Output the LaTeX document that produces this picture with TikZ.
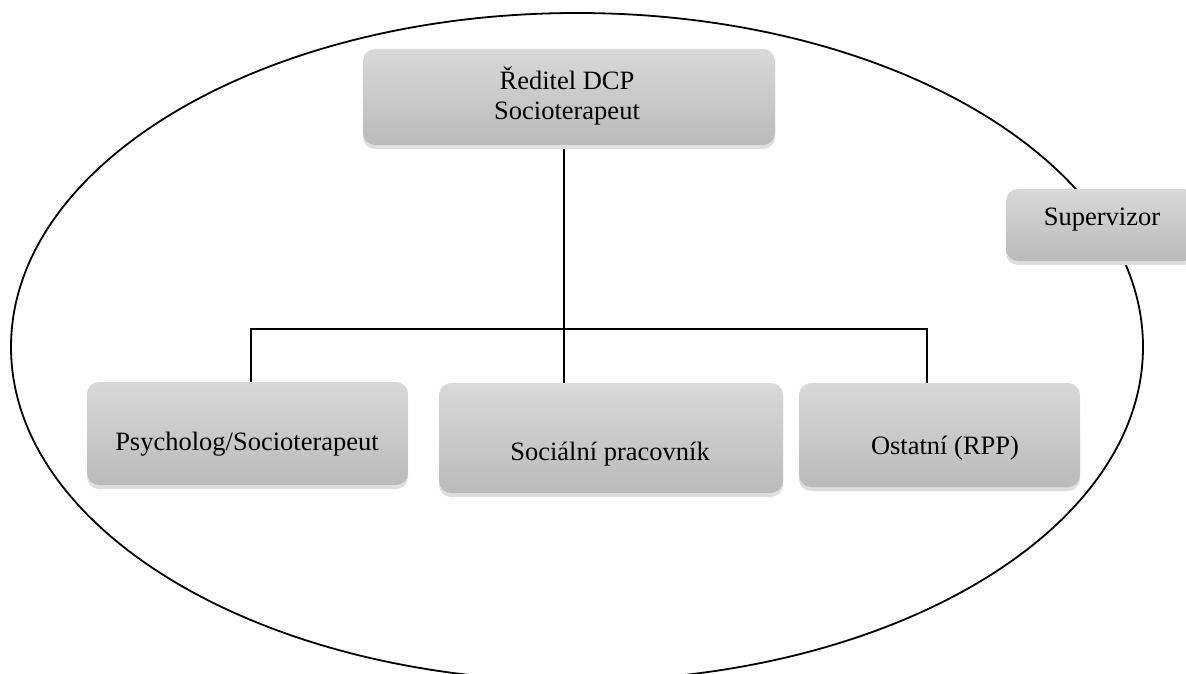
\documentclass[tikz,border=0pt]{standalone}
\usepackage{fontspec}
\setmainfont{Liberation Serif}
\usetikzlibrary{shadows}
\begin{document}
\begin{tikzpicture}[x=1pt,y=-1pt,
  box/.style={rectangle, rounded corners=12pt, draw=none,
    top color=black!15, bottom color=black!27,
    drop shadow={shadow xshift=0pt, shadow yshift=-4pt, fill=black!13, opacity=1},
    inner sep=0pt},
  txt/.style={anchor=base, inner sep=0pt, font=\fontsize{26.5}{31}\selectfont, text=black},
  conn/.style={draw=black, line width=1.5pt}]
\useasboundingbox (0,0) rectangle (1186,674);
\draw[line width=1.8pt] (577,347) ellipse [x radius=566, y radius=334];
\node[box, minimum width=412pt, minimum height=96pt] (top) at (569,97) {};
\node[box, minimum width=190pt, minimum height=72pt] (sup) at (1101,225) {};
\node[box, minimum width=321pt, minimum height=103pt] (psy) at (247.5,433.5) {};
\node[box, minimum width=344pt, minimum height=110pt] (soc) at (611,438) {};
\node[box, minimum width=281pt, minimum height=104pt] (ost) at (939.5,435) {};
\node[txt] (t1) at (567,90) {Ředitel DCP};
\node[txt] (t2) at (567,120) {Socioterapeut};
\node[txt] (t3) at (1102,225) {Supervizor};
\node[txt] (t4) at (247,450) {Psycholog/Socioterapeut};
\node[txt] (t5) at (610,460) {Sociální pracovník};
\node[txt] (t6) at (945,454) {Ostatní (RPP)};
\coordinate (j) at (564,329);
\coordinate (jl) at (251,329);
\coordinate (jr) at (927,329);
\draw[conn] ([yshift=-4pt]j |- top.south) -- (j |- soc.north);
\draw[conn] (jl |- psy.north) -- (jl) -- (jr) -- (jr |- ost.north);
\end{tikzpicture}
\end{document}
